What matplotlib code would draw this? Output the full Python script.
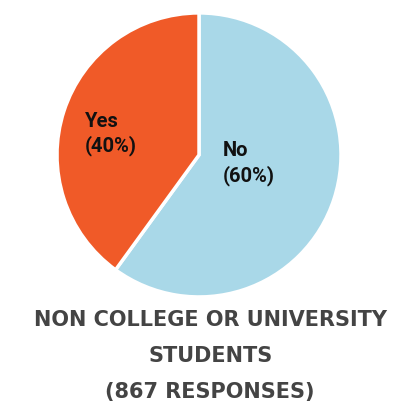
import matplotlib.pyplot as plt

# datos del gráfico
labels = ['No', 'Yes']
values = [60, 40]
colors = ['#a9d8e8', '#f05a28']
title_lines = ['NON COLLEGE OR UNIVERSITY', 'STUDENTS', '(867 RESPONSES)']

fig = plt.figure(figsize=(4.02, 4.13), dpi=100)
ax = fig.add_axes([0.1418, 0.281, 0.7065, 0.6877])

wedges, _ = ax.pie(values, colors=colors, startangle=90, counterclock=False,
                   wedgeprops=dict(edgecolor='white', linewidth=2.5))
ax.set_xlim(-1, 1)
ax.set_ylim(-1, 1)
ax.set_aspect('auto')

# etiquetas dentro de las porciones (dos líneas cada una)
pos = {'No': (0.169, -0.01), 'Yes': (-0.803, 0.200)}
for lab, val in zip(labels, values):
    x, y = pos[lab]
    ax.text(x, y, lab, ha='left', va='baseline', fontsize=14.5,
            fontweight='bold', family='Roboto', color='#111111')
    ax.text(x, y - 0.176, f'({val}%)', ha='left', va='baseline', fontsize=14.5,
            fontweight='bold', family='Roboto', color='#111111')

# título inferior
ys = [0.2107, 0.1235, 0.0363]
for txt, y in zip(title_lines, ys):
    fig.text(0.523, y, txt, ha='center', va='baseline', fontsize=15,
             fontweight='bold', family='DejaVu Sans', color='#444444')

fig.savefig('out.png', dpi=100)
